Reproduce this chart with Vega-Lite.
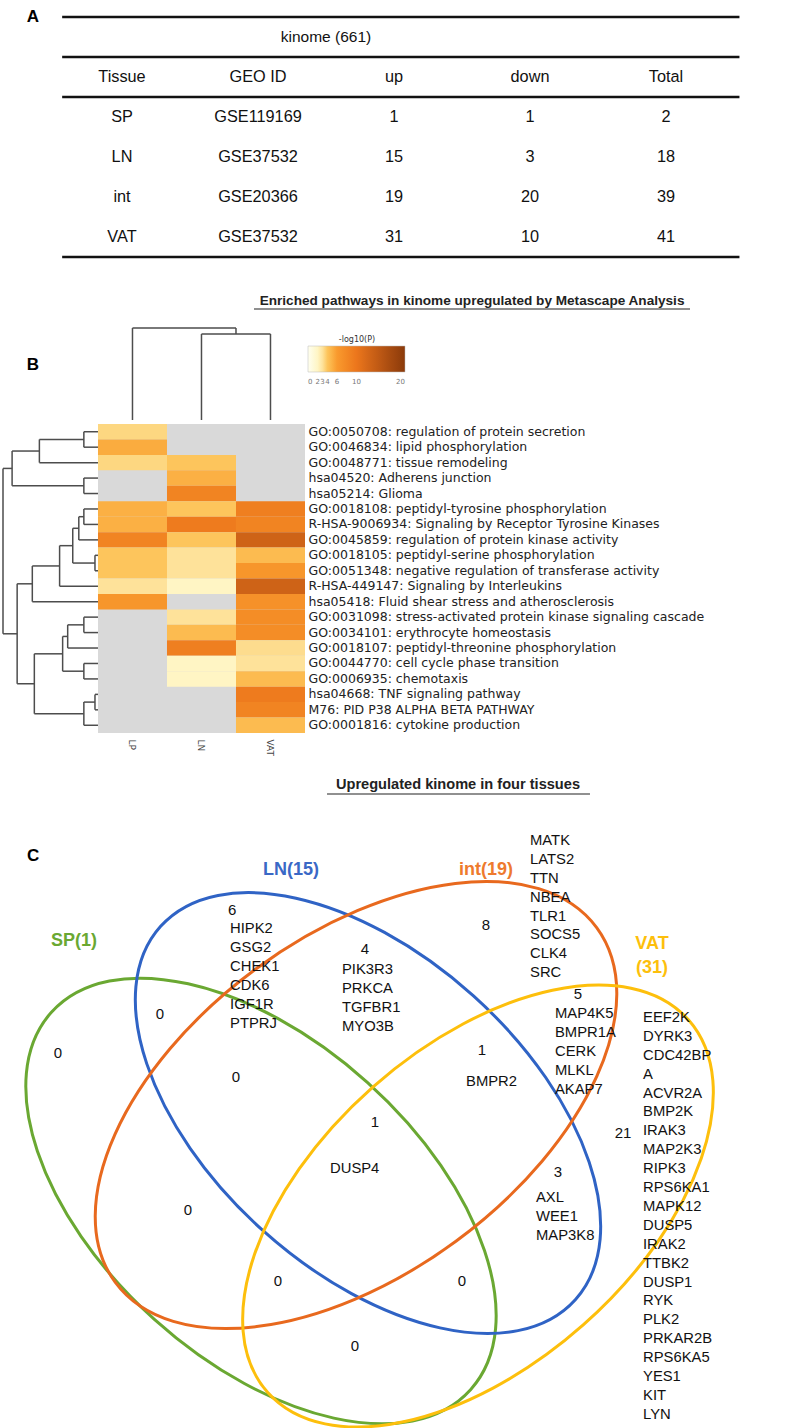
{
  "$schema": "https://vega.github.io/schema/vega-lite/v6.json",
  "padding": 0,
  "background": "white",
  "spacing": 0,
  "bounds": "flush",
  "config": {"view": {"stroke": null}, "font": "Liberation Sans"},
  "datasets": {
    "table": [
      {"Tissue": "SP", "GEO ID": "GSE119169", "up": 1, "down": 1, "Total": 2},
      {"Tissue": "LN", "GEO ID": "GSE37532", "up": 15, "down": 3, "Total": 18},
      {"Tissue": "int", "GEO ID": "GSE20366", "up": 19, "down": 20, "Total": 39},
      {"Tissue": "VAT", "GEO ID": "GSE37532", "up": 31, "down": 10, "Total": 41}
    ],
    "heat": [
      {"pathway": "GO:0050708: regulation of protein secretion", "tissue": "LP", "logP": 3.4},
      {"pathway": "GO:0046834: lipid phosphorylation", "tissue": "LP", "logP": 5.2},
      {"pathway": "GO:0048771: tissue remodeling", "tissue": "LP", "logP": 3.4},
      {"pathway": "GO:0048771: tissue remodeling", "tissue": "LN", "logP": 4},
      {"pathway": "hsa04520: Adherens junction", "tissue": "LN", "logP": 5},
      {"pathway": "hsa05214: Glioma", "tissue": "LN", "logP": 8.5},
      {"pathway": "GO:0018108: peptidyl-tyrosine phosphorylation", "tissue": "LP", "logP": 5},
      {"pathway": "GO:0018108: peptidyl-tyrosine phosphorylation", "tissue": "LN", "logP": 4},
      {"pathway": "GO:0018108: peptidyl-tyrosine phosphorylation", "tissue": "VAT", "logP": 9},
      {"pathway": "R-HSA-9006934: Signaling by Receptor Tyrosine Kinases", "tissue": "LP", "logP": 5},
      {"pathway": "R-HSA-9006934: Signaling by Receptor Tyrosine Kinases", "tissue": "LN", "logP": 9.5},
      {"pathway": "R-HSA-9006934: Signaling by Receptor Tyrosine Kinases", "tissue": "VAT", "logP": 8.5},
      {"pathway": "GO:0045859: regulation of protein kinase activity", "tissue": "LP", "logP": 8.5},
      {"pathway": "GO:0045859: regulation of protein kinase activity", "tissue": "LN", "logP": 4},
      {"pathway": "GO:0045859: regulation of protein kinase activity", "tissue": "VAT", "logP": 13},
      {"pathway": "GO:0018105: peptidyl-serine phosphorylation", "tissue": "LP", "logP": 4},
      {"pathway": "GO:0018105: peptidyl-serine phosphorylation", "tissue": "LN", "logP": 3},
      {"pathway": "GO:0018105: peptidyl-serine phosphorylation", "tissue": "VAT", "logP": 4.5},
      {"pathway": "GO:0051348: negative regulation of transferase activity", "tissue": "LP", "logP": 4},
      {"pathway": "GO:0051348: negative regulation of transferase activity", "tissue": "LN", "logP": 3},
      {"pathway": "GO:0051348: negative regulation of transferase activity", "tissue": "VAT", "logP": 6.5},
      {"pathway": "R-HSA-449147: Signaling by Interleukins", "tissue": "LP", "logP": 3},
      {"pathway": "R-HSA-449147: Signaling by Interleukins", "tissue": "LN", "logP": 2},
      {"pathway": "R-HSA-449147: Signaling by Interleukins", "tissue": "VAT", "logP": 13},
      {"pathway": "hsa05418: Fluid shear stress and atherosclerosis", "tissue": "LP", "logP": 6.5},
      {"pathway": "hsa05418: Fluid shear stress and atherosclerosis", "tissue": "VAT", "logP": 7},
      {"pathway": "GO:0031098: stress-activated protein kinase signaling cascade", "tissue": "LN", "logP": 3},
      {"pathway": "GO:0031098: stress-activated protein kinase signaling cascade", "tissue": "VAT", "logP": 7.5},
      {"pathway": "GO:0034101: erythrocyte homeostasis", "tissue": "LN", "logP": 4.5},
      {"pathway": "GO:0034101: erythrocyte homeostasis", "tissue": "VAT", "logP": 7.5},
      {"pathway": "GO:0018107: peptidyl-threonine phosphorylation", "tissue": "LN", "logP": 9},
      {"pathway": "GO:0018107: peptidyl-threonine phosphorylation", "tissue": "VAT", "logP": 3.2},
      {"pathway": "GO:0044770: cell cycle phase transition", "tissue": "LN", "logP": 2},
      {"pathway": "GO:0044770: cell cycle phase transition", "tissue": "VAT", "logP": 3},
      {"pathway": "GO:0006935: chemotaxis", "tissue": "LN", "logP": 2},
      {"pathway": "GO:0006935: chemotaxis", "tissue": "VAT", "logP": 4.5},
      {"pathway": "hsa04668: TNF signaling pathway", "tissue": "VAT", "logP": 9.5},
      {"pathway": "M76: PID P38 ALPHA BETA PATHWAY", "tissue": "VAT", "logP": 8.5},
      {"pathway": "GO:0001816: cytokine production", "tissue": "VAT", "logP": 4.5}
    ],
    "rowTree": [
      {"h": 14, "y1": 0, "y2": 1, "h1": 0, "h2": 0},
      {"h": 58, "y1": 0.5, "y2": 2, "h1": 14, "h2": 0},
      {"h": 14, "y1": 3, "y2": 4, "h1": 0, "h2": 0},
      {"h": 85, "y1": 1.25, "y2": 3.5, "h1": 58, "h2": 14},
      {"h": 14, "y1": 5, "y2": 6, "h1": 0, "h2": 0},
      {"h": 19, "y1": 5.5, "y2": 7, "h1": 14, "h2": 0},
      {"h": 3, "y1": 8, "y2": 9, "h1": 0, "h2": 0},
      {"h": 25, "y1": 6.25, "y2": 8.5, "h1": 19, "h2": 3},
      {"h": 38, "y1": 7.375, "y2": 10, "h1": 25, "h2": 0},
      {"h": 65, "y1": 8.6875, "y2": 11, "h1": 38, "h2": 0},
      {"h": 14, "y1": 12, "y2": 13, "h1": 0, "h2": 0},
      {"h": 30, "y1": 12.5, "y2": 14, "h1": 14, "h2": 0},
      {"h": 14, "y1": 15, "y2": 16, "h1": 0, "h2": 0},
      {"h": 35, "y1": 13.25, "y2": 15.5, "h1": 30, "h2": 14},
      {"h": 3, "y1": 17, "y2": 18, "h1": 0, "h2": 0},
      {"h": 14, "y1": 17.5, "y2": 19, "h1": 3, "h2": 0},
      {"h": 63, "y1": 14.375, "y2": 18.25, "h1": 35, "h2": 14},
      {"h": 80, "y1": 9.84375, "y2": 16.3125, "h1": 65, "h2": 63},
      {"h": 94, "y1": 2.375, "y2": 13.078125, "h1": 85, "h2": 80}
    ],
    "colTree": [
      {"h": 86, "x1": 1, "x2": 2, "h1": 0, "h2": 0},
      {"h": 92, "x1": 0, "x2": 1.5, "h1": 0, "h2": 86}
    ],
    "sets": [
      {"set": "SP", "label": "SP(1)", "cx": 0.3312, "cy": 0.2881, "lx": 0.0939, "ly": 0.618},
      {"set": "LN", "label": "LN(15)", "cx": 0.467, "cy": 0.3997, "lx": 0.3693, "ly": 0.7081},
      {"set": "int", "label": "int(19)", "cx": 0.4518, "cy": 0.4099, "lx": 0.6168, "ly": 0.7081},
      {"set": "VAT", "label": "VAT\n(31)", "cx": 0.6066, "cy": 0.2817, "lx": 0.8274, "ly": 0.6142}
    ],
    "regions": [
      {"region": "SP", "count": 0, "genes": "", "cx": 0.0736, "cy": 0.4759, "gx": 0, "gy": 0},
      {"region": "LN", "count": 6, "genes": "HIPK2\nGSG2\nCHEK1\nCDK6\nIGF1R\nPTPRJ", "cx": 0.2945, "cy": 0.6574, "gx": 0.2919, "gy": 0.6434},
      {"region": "int", "count": 8, "genes": "MATK\nLATS2\nTTN\nNBEA\nTLR1\nSOCS5\nCLK4\nSRC", "cx": 0.6168, "cy": 0.6383, "gx": 0.6726, "gy": 0.7551},
      {"region": "VAT", "count": 21, "genes": "EEF2K\nDYRK3\nCDC42BP\nA\nACVR2A\nBMP2K\nIRAK3\nMAP2K3\nRIPK3\nRPS6KA1\nMAPK12\nDUSP5\nIRAK2\nTTBK2\nDUSP1\nRYK\nPLK2\nPRKAR2B\nRPS6KA5\nYES1\nKIT\nLYN", "cx": 0.7906, "cy": 0.3744, "gx": 0.816, "gy": 0.5305},
      {"region": "SP&LN", "count": 0, "genes": "", "cx": 0.203, "cy": 0.5254, "gx": 0, "gy": 0},
      {"region": "SP&int", "count": 0, "genes": "", "cx": 0.2386, "cy": 0.2766, "gx": 0, "gy": 0},
      {"region": "SP&VAT", "count": 0, "genes": "", "cx": 0.4505, "cy": 0.1041, "gx": 0, "gy": 0},
      {"region": "LN&int", "count": 4, "genes": "PIK3R3\nPRKCA\nTGFBR1\nMYO3B", "cx": 0.4632, "cy": 0.6079, "gx": 0.434, "gy": 0.5914},
      {"region": "LN&VAT", "count": 3, "genes": "AXL\nWEE1\nMAP3K8", "cx": 0.7081, "cy": 0.3249, "gx": 0.6802, "gy": 0.302},
      {"region": "int&VAT", "count": 5, "genes": "MAP4K5\nBMPR1A\nCERK\nMLKL\nAKAP7", "cx": 0.7335, "cy": 0.5508, "gx": 0.7043, "gy": 0.5355},
      {"region": "SP&LN&int", "count": 0, "genes": "", "cx": 0.2995, "cy": 0.4454, "gx": 0, "gy": 0},
      {"region": "SP&LN&VAT", "count": 0, "genes": "", "cx": 0.5863, "cy": 0.1865, "gx": 0, "gy": 0},
      {"region": "SP&int&VAT", "count": 0, "genes": "", "cx": 0.3528, "cy": 0.1865, "gx": 0, "gy": 0},
      {"region": "LN&int&VAT", "count": 1, "genes": "BMPR2", "cx": 0.6117, "cy": 0.4797, "gx": 0.5914, "gy": 0.4492},
      {"region": "SP&LN&int&VAT", "count": 1, "genes": "DUSP4", "cx": 0.4759, "cy": 0.3883, "gx": 0.4188, "gy": 0.3388}
    ]
  },
  "vconcat": [
    {
      "width": 788,
      "height": 274,
      "layer": [
        {
          "data": {"name": "table"},
          "transform": [{"fold": ["Tissue", "GEO ID", "up", "down", "Total"], "as": ["column", "value"]}],
          "mark": {"type": "text", "fontSize": 16.3, "color": "#111"},
          "encoding": {
            "x": {"field": "column", "type": "nominal", "scale": {"domain": ["Tissue", "GEO ID", "up", "down", "Total"], "paddingInner": 0, "paddingOuter": 0.397}, "axis": null},
            "y": {"field": "Tissue", "type": "nominal", "scale": {"domain": ["kinome", "header", "SP", "LN", "int", "VAT"], "paddingInner": 0, "paddingOuter": 0.425}, "axis": null},
            "text": {"field": "value", "type": "nominal"}
          }
        },
        {
          "data": {"name": "table"},
          "transform": [
            {"fold": ["Tissue", "GEO ID", "up", "down", "Total"], "as": ["column", "value"]},
            {"aggregate": [{"op": "count", "as": "n"}], "groupby": ["column"]}
          ],
          "mark": {"type": "text", "fontSize": 16.3, "color": "#111"},
          "encoding": {
            "x": {"field": "column", "type": "nominal"},
            "y": {"datum": "header", "type": "nominal"},
            "text": {"field": "column", "type": "nominal"}
          }
        },
        {
          "data": {"values": [{"label": "kinome (661)"}]},
          "mark": {"type": "text", "fontSize": 15.5, "color": "#111"},
          "encoding": {
            "x": {"datum": "GEO ID", "type": "nominal", "bandPosition": 1},
            "y": {"datum": "kinome", "type": "nominal"},
            "text": {"field": "label", "type": "nominal"}
          }
        },
        {
          "data": {"values": [{"edge": "kinome"}, {"edge": "header"}, {"edge": "SP"}]},
          "mark": {"type": "rule", "color": "#111", "strokeWidth": 2.7},
          "encoding": {
            "x": {"datum": "Tissue", "type": "nominal", "bandPosition": 0.06},
            "x2": {"datum": "Total", "bandPosition": 1.04},
            "y": {"field": "edge", "type": "nominal", "bandPosition": 0}
          }
        },
        {
          "data": {"values": [{"edge": "VAT"}]},
          "mark": {"type": "rule", "color": "#111", "strokeWidth": 2.7},
          "encoding": {
            "x": {"datum": "Tissue", "type": "nominal", "bandPosition": 0.06},
            "x2": {"datum": "Total", "bandPosition": 1.04},
            "y": {"field": "edge", "type": "nominal", "bandPosition": 1}
          }
        },
        {
          "data": {"values": [{"label": "A"}]},
          "mark": {"type": "text", "fontSize": 17, "fontWeight": "bold", "color": "#000", "dx": -21},
          "encoding": {
            "x": {"datum": "Tissue", "type": "nominal", "bandPosition": 0},
            "y": {"datum": "kinome", "type": "nominal", "bandPosition": 0},
            "text": {"field": "label", "type": "nominal"}
          }
        }
      ]
    },
    {
      "width": 788,
      "height": 150,
      "layer": [
        {
          "data": {"name": "colTree"},
          "mark": {"type": "rule", "color": "#4d4d4d", "strokeWidth": 1.5},
          "encoding": {
            "x": {"field": "x1", "type": "quantitative", "scale": {"domain": [-1.92, 9.5], "nice": false, "zero": false}, "axis": null},
            "y": {"field": "h1", "type": "quantitative", "scale": {"domain": [-4, 146], "nice": false, "zero": false}, "axis": null},
            "y2": {"field": "h"}
          }
        },
        {
          "data": {"name": "colTree"},
          "mark": {"type": "rule", "color": "#4d4d4d", "strokeWidth": 1.5},
          "encoding": {
            "x": {"field": "x2", "type": "quantitative"},
            "y": {"field": "h2", "type": "quantitative"},
            "y2": {"field": "h"}
          }
        },
        {
          "data": {"name": "colTree"},
          "mark": {"type": "rule", "color": "#4d4d4d", "strokeWidth": 1.5},
          "encoding": {
            "x": {"field": "x1", "type": "quantitative"},
            "x2": {"field": "x2"},
            "y": {"field": "h", "type": "quantitative"}
          }
        },
        {
          "data": {"values": [{"label": "B"}]},
          "mark": {"type": "text", "fontSize": 17, "fontWeight": "bold", "color": "#000"},
          "encoding": {
            "x": {"datum": -1.442, "type": "quantitative"},
            "y": {"datum": 55, "type": "quantitative"},
            "text": {"field": "label", "type": "nominal"}
          }
        },
        {
          "data": {"values": [{"label": "Enriched pathways in kinome upregulated by Metascape Analysis"}]},
          "mark": {"type": "text", "fontSize": 13.6, "fontWeight": "bold", "color": "#222"},
          "encoding": {
            "x": {"datum": 4.921, "type": "quantitative"},
            "y": {"datum": 119, "type": "quantitative"},
            "text": {"field": "label", "type": "nominal"}
          }
        },
        {
          "data": {"values": [{"label": "underline"}]},
          "mark": {"type": "rule", "color": "#222", "strokeWidth": 1.2},
          "encoding": {
            "x": {"datum": 1.761, "type": "quantitative"},
            "x2": {"datum": 8.08},
            "y": {"datum": 111, "type": "quantitative"}
          }
        }
      ]
    },
    {
      "width": 305,
      "height": 309,
      "layer": [
        {
          "data": {"name": "rowTree"},
          "layer": [
            {
              "mark": {"type": "rule", "color": "#4d4d4d", "strokeWidth": 1.5},
              "encoding": {
                "x": {"field": "h", "type": "quantitative", "scale": {"domain": [-204.8, 96.97], "reverse": true, "nice": false, "zero": false}, "axis": null},
                "y": {"field": "y1", "type": "quantitative", "scale": {"domain": [-0.5, 19.5], "reverse": true, "nice": false, "zero": false}, "axis": null},
                "y2": {"field": "y2"}
              }
            },
            {
              "mark": {"type": "rule", "color": "#4d4d4d", "strokeWidth": 1.5},
              "encoding": {
                "x": {"field": "h1", "type": "quantitative"},
                "x2": {"field": "h"},
                "y": {"field": "y1", "type": "quantitative"}
              }
            },
            {
              "mark": {"type": "rule", "color": "#4d4d4d", "strokeWidth": 1.5},
              "encoding": {
                "x": {"field": "h2", "type": "quantitative"},
                "x2": {"field": "h"},
                "y": {"field": "y2", "type": "quantitative"}
              }
            }
          ]
        },
        {
          "layer": [
            {
              "data": {"values": [{"label": "not enriched"}]},
              "mark": {"type": "rect", "color": "#d9d9d9"},
              "encoding": {
                "x": {"datum": "LP", "type": "nominal", "bandPosition": 0,
                      "scale": {"domain": ["LP", "LN", "VAT"], "paddingInner": 0, "paddingOuter": 0.71, "align": 1},
                      "axis": {"title": null, "orient": "bottom", "labelAngle": 90, "labelAlign": "left", "labelBaseline": "middle", "labelFontSize": 9, "labelColor": "#444", "labelFont": "DejaVu Sans", "ticks": false, "domain": false, "labelPadding": 6}},
                "x2": {"datum": "VAT", "bandPosition": 1}
              }
            },
            {
              "data": {"name": "heat"},
              "mark": {"type": "rect"},
              "encoding": {
                "x": {"field": "tissue", "type": "nominal"},
                "y": {"field": "pathway", "type": "nominal", "sort": null, "scale": {"paddingInner": 0, "paddingOuter": 0},
                      "axis": {"title": null, "orient": "right", "labelFontSize": 12.5, "labelFont": "DejaVu Sans", "labelColor": "#222", "ticks": false, "domain": false, "labelPadding": 3, "labelLimit": 0}},
                "color": {"field": "logP", "type": "quantitative",
                          "scale": {"domain": [0, 2, 3, 4, 6, 10, 20], "range": ["#fffff0", "#fff5c4", "#fee29a", "#fdc55c", "#f99a2e", "#ec761c", "#8b3a0a"]},
                          "legend": {"orient": "none", "legendX": 308, "legendY": 336, "direction": "horizontal", "gradientLength": 97, "gradientThickness": 26, "title": "-log10(P)", "titleFontSize": 8, "titleFontWeight": "normal", "titleFont": "DejaVu Sans", "titleColor": "#333", "titleAnchor": "middle", "titlePadding": 2, "labelFontSize": 7, "labelFont": "DejaVu Sans", "labelColor": "#777", "values": [0, 2, 3, 4, 6, 10, 20], "labelOverlap": false, "labelOffset": 6, "gradientStrokeColor": "#bbb", "gradientStrokeWidth": 0.5}}
              }
            }
          ]
        }
      ],
      "resolve": {"scale": {"x": "independent", "y": "independent"}}
    },
    {
      "width": 788,
      "height": 695,
      "layer": [
        {
          "data": {"name": "sets"},
          "transform": [{"filter": "datum.set === 'SP'"}],
          "mark": {"type": "point", "shape": "M-1,0A1,0.565,0,0,1,1,0A1,0.565,0,0,1,-1,0Z", "size": 318096, "angle": 42, "filled": false, "stroke": "#6aa832", "strokeWidth": 3, "opacity": 1},
          "encoding": {
            "x": {"field": "cx", "type": "quantitative", "scale": {"domain": [0, 1], "nice": false, "zero": false}, "axis": null},
            "y": {"field": "cy", "type": "quantitative", "scale": {"domain": [0, 0.88198], "nice": false, "zero": false}, "axis": null}
          }
        },
        {
          "data": {"name": "sets"},
          "transform": [{"filter": "datum.set === 'LN'"}],
          "mark": {"type": "point", "shape": "M-1,0A1,0.565,0,0,1,1,0A1,0.565,0,0,1,-1,0Z", "size": 311364, "angle": 42, "filled": false, "stroke": "#2f63c5", "strokeWidth": 3, "opacity": 1},
          "encoding": {"x": {"field": "cx", "type": "quantitative"}, "y": {"field": "cy", "type": "quantitative"}}
        },
        {
          "data": {"name": "sets"},
          "transform": [{"filter": "datum.set === 'int'"}],
          "mark": {"type": "point", "shape": "M-1,0A1,0.565,0,0,1,1,0A1,0.565,0,0,1,-1,0Z", "size": 357604, "angle": -36.4, "filled": false, "stroke": "#e8691e", "strokeWidth": 3, "opacity": 1},
          "encoding": {"x": {"field": "cx", "type": "quantitative"}, "y": {"field": "cy", "type": "quantitative"}}
        },
        {
          "data": {"name": "sets"},
          "transform": [{"filter": "datum.set === 'VAT'"}],
          "mark": {"type": "point", "shape": "M-1,0A1,0.565,0,0,1,1,0A1,0.565,0,0,1,-1,0Z", "size": 315844, "angle": -41.5, "filled": false, "stroke": "#fdbf0c", "strokeWidth": 3, "opacity": 1},
          "encoding": {"x": {"field": "cx", "type": "quantitative"}, "y": {"field": "cy", "type": "quantitative"}}
        },
        {
          "data": {"name": "sets"},
          "mark": {"type": "text", "fontSize": 18, "fontWeight": "bold", "lineBreak": "\n", "lineHeight": 24},
          "encoding": {
            "x": {"field": "lx", "type": "quantitative"},
            "y": {"field": "ly", "type": "quantitative"},
            "text": {"field": "label", "type": "nominal"},
            "fill": {"field": "set", "type": "nominal", "scale": {"domain": ["SP", "LN", "int", "VAT"], "range": ["#6aa832", "#3a68c6", "#ee7a2e", "#fdbf0c"]}, "legend": null}
          }
        },
        {
          "data": {"name": "regions"},
          "mark": {"type": "text", "fontSize": 15, "color": "#111", "baseline": "middle"},
          "encoding": {
            "x": {"field": "cx", "type": "quantitative"},
            "y": {"field": "cy", "type": "quantitative"},
            "text": {"field": "count", "type": "nominal"}
          }
        },
        {
          "data": {"name": "regions"},
          "transform": [{"filter": "datum.genes !== ''"}],
          "mark": {"type": "text", "fontSize": 14.8, "color": "#111", "align": "left", "baseline": "top", "lineBreak": "\n", "lineHeight": 18.9},
          "encoding": {
            "x": {"field": "gx", "type": "quantitative"},
            "y": {"field": "gy", "type": "quantitative"},
            "text": {"field": "genes", "type": "nominal"}
          }
        },
        {
          "data": {"values": [{"label": "Upregulated kinome in four tissues"}]},
          "mark": {"type": "text", "fontSize": 14.6, "fontWeight": "bold", "color": "#222"},
          "encoding": {
            "x": {"datum": 0.5812, "type": "quantitative"},
            "y": {"datum": 0.816, "type": "quantitative"},
            "text": {"field": "label", "type": "nominal"}
          }
        },
        {
          "data": {"values": [{"label": "underline"}]},
          "mark": {"type": "rule", "color": "#222", "strokeWidth": 1.2},
          "encoding": {
            "x": {"datum": 0.415, "type": "quantitative"},
            "x2": {"datum": 0.7487},
            "y": {"datum": 0.8046, "type": "quantitative"}
          }
        },
        {
          "data": {"values": [{"label": "C"}]},
          "mark": {"type": "text", "fontSize": 17, "fontWeight": "bold", "color": "#000"},
          "encoding": {
            "x": {"datum": 0.0419, "type": "quantitative"},
            "y": {"datum": 0.7259, "type": "quantitative"},
            "text": {"field": "label", "type": "nominal"}
          }
        }
      ]
    }
  ]
}
